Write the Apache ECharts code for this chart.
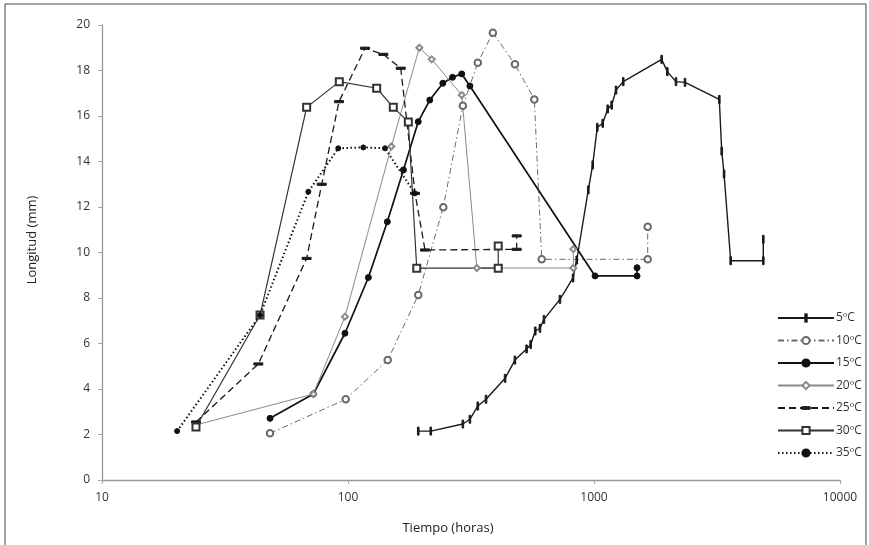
<!DOCTYPE html>
<html>
<head>
<meta charset="utf-8">
<script src="https://cdn.jsdelivr.net/npm/echarts@6/dist/echarts.min.js"></script>
<style>html,body{margin:0;padding:0;background:#fff;}#c{width:869px;height:545px;}</style>
</head>
<body>
<div id="c"></div>
<script>
var seriesNames = ['5ºC', '10ºC', '15ºC', '20ºC', '25ºC', '30ºC', '35ºC'];
var xTicks = [10, 100, 1000, 10000];

var t5 = [193, 217, 293, 313, 337, 364, 435, 477, 532, 553, 577, 603, 626, 727, 822, 851, 948, 988, 1031, 1085, 1137, 1180, 1229, 1315, 1884, 1986, 2154, 2344, 3231, 3305, 3378, 3595, 4877, 4877];
var l5 = [2.15, 2.15, 2.46, 2.67, 3.25, 3.55, 4.47, 5.27, 5.76, 5.96, 6.55, 6.67, 7.06, 7.94, 8.88, 9.67, 12.75, 13.85, 15.5, 15.68, 16.31, 16.48, 17.14, 17.51, 18.49, 17.95, 17.51, 17.48, 16.73, 14.46, 13.45, 9.64, 9.64, 10.58];

var t10 = [48.2, 97.9, 145, 193, 244, 293, 337, 388, 477, 572, 613, 1653, 1653];
var l10 = [2.05, 3.55, 5.27, 8.13, 11.99, 16.45, 18.34, 19.66, 18.27, 16.73, 9.70, 9.70, 11.13];

var t15 = [48.2, 72.3, 97.2, 121, 144.5, 168, 193, 215, 243, 266, 290, 313, 1010, 1496, 1496];
var l15 = [2.71, 3.78, 6.45, 8.9, 11.35, 13.63, 15.75, 16.7, 17.44, 17.7, 17.85, 17.32, 8.97, 8.97, 9.33];

var t20 = [24.1, 72.3, 97.2, 150, 195, 219, 290, 334, 824, 824];
var l20 = [2.42, 3.78, 7.18, 14.66, 19.0, 18.49, 16.92, 9.32, 9.32, 10.15];

var t25 = [24.1, 43.2, 67.9, 78.2, 91.9, 117.3, 139.2, 163.8, 187.3, 205.6, 485, 485];
var l25 = [2.55, 5.1, 9.74, 13.0, 16.63, 18.98, 18.71, 18.10, 12.60, 10.11, 10.14, 10.73];

var t30 = [24.1, 43.9, 67.9, 92.2, 130.8, 152.8, 175.9, 190.3, 408, 408];
var l30 = [2.33, 7.25, 16.38, 17.51, 17.22, 16.38, 15.74, 9.31, 9.31, 10.29];

var t35 = [20.2, 43.9, 69.0, 91.3, 115.4, 141.4, 187];
var l35 = [2.15, 7.25, 12.67, 14.58, 14.62, 14.58, 12.6];

function zip(t, l) { return t.map(function (v, i) { return [v, l[i]]; }); }

// square bounding boxes so the marks keep their shape in plot and legend
var vTick = 'path://M0,0M10,10M4,0h2v10h-2z';
var hBar = 'path://M0,0M10,10M0,3.8h10v2.4h-10z';
var styles = [
  { symbol: vTick, symbolSize: 8, color: '#1a1a1a', width: 1.4, type: 'solid' },
  { symbol: 'emptyCircle', symbolSize: 6.5, color: '#6a6a6a', width: 1, type: [6, 3, 1.5, 3] },
  { symbol: 'circle', symbolSize: 6, color: '#111', width: 1.7, type: 'solid' },
  { symbol: 'emptyDiamond', symbolSize: 6, color: '#8a8a8a', width: 1, type: 'solid' },
  { symbol: hBar, symbolSize: 9, color: '#1a1a1a', width: 1.3, type: [7, 4] },
  { symbol: 'emptyRect', symbolSize: 7, color: '#333', width: 1.2, type: 'solid' },
  { symbol: 'circle', symbolSize: 5, color: '#111', width: 2, type: [1.5, 2.5] }
];
var dataSets = [zip(t5, l5), zip(t10, l10), zip(t15, l15), zip(t20, l20), zip(t25, l25), zip(t30, l30), zip(t35, l35)];

var series = seriesNames.map(function (n, i) {
  var s = styles[i];
  return {
    name: n, type: 'line', data: dataSets[i],
    symbol: s.symbol, symbolSize: s.symbolSize, showAllSymbol: true,
    lineStyle: { color: s.color, width: s.width, type: s.type },
    itemStyle: { color: s.color, borderColor: s.color, borderWidth: 1 },
    emphasis: { disabled: true }, animation: false
  };
});

var font = 'Open Sans';
var chart = echarts.init(document.getElementById('c'), null, { renderer: 'canvas' });
chart.setOption({
  backgroundColor: '#fff',
  animation: false,
  grid: { left: 102, right: 29, top: 25, bottom: 65 },
  legend: {
    orient: 'vertical', left: 772, top: 307,
    itemWidth: 56, itemHeight: 9, itemGap: 10.5,
    data: seriesNames,
    textStyle: { fontFamily: font, fontSize: 12, color: '#333', padding: [0, 0, 0, -3] }
  },
  xAxis: {
    type: 'log', logBase: 10, min: 10, max: 10000,
    name: 'Tiempo (horas)', nameLocation: 'middle', nameGap: 42,
    nameTextStyle: { fontFamily: font, fontSize: 13, color: '#222', padding: [0, 46, 0, 0] },
    axisLine: { lineStyle: { color: '#999', width: 1.3 } },
    axisTick: { show: true, length: 4, lineStyle: { color: '#aaa' } },
    minorTick: { show: false },
    splitLine: { show: false },
    axisLabel: { fontFamily: font, fontSize: 12, color: '#333', margin: 12,
      formatter: function (v) { return xTicks.indexOf(Math.round(v)) >= 0 ? String(Math.round(v)) : ''; } }
  },
  yAxis: {
    type: 'value', min: 0, max: 20, interval: 2,
    axisLine: { show: true, lineStyle: { color: '#999', width: 1.3 } },
    axisTick: { show: true, length: 4, lineStyle: { color: '#aaa' } },
    splitLine: { show: false },
    axisLabel: { fontFamily: font, fontSize: 12, color: '#333', margin: 12 }
  },
  graphic: [
    { type: 'line', shape: { x1: 5, y1: 4, x2: 5, y2: 545 }, style: { stroke: '#444', lineWidth: 1 } },
    { type: 'line', shape: { x1: 5, y1: 4, x2: 866, y2: 4 }, style: { stroke: '#444', lineWidth: 1 } },
    { type: 'line', shape: { x1: 866, y1: 4, x2: 866, y2: 545 }, style: { stroke: '#444', lineWidth: 1 } },
    { type: 'text', x: 32, y: 240, rotation: Math.PI / 2,
      style: { text: 'Longitud (mm)', fontFamily: font, fontSize: 13, fill: '#222', align: 'center', verticalAlign: 'middle' } }
  ],
  series: series
});
</script>
</body>
</html>
